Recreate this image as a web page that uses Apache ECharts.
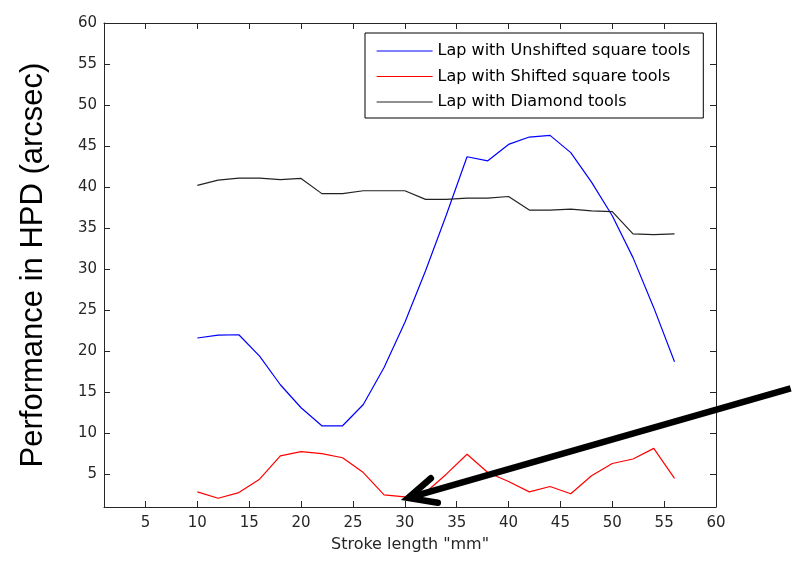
<!DOCTYPE html>
<html>
<head>
<meta charset="utf-8">
<script src="https://cdn.jsdelivr.net/npm/echarts@6/dist/echarts.min.js"></script>
<style>
html,body{margin:0;padding:0;background:#fff;}
#chart{width:798px;height:563px;}
</style>
</head>
<body>
<div id="chart"></div>
<script>
// ---- data ----
var strokeLength = [10,12,14,16,18,20,22,24,26,28,30,32,34,36,38,40,42,44,46,48,50,52,54,56];
var unshifted = [21.6,21.95,22.0,19.4,15.9,13.1,10.9,10.9,13.5,18.0,23.5,29.8,36.6,43.7,43.2,45.2,46.1,46.3,44.2,40.6,36.5,31.4,25.3,18.7];
var shifted   = [2.84,2.07,2.76,4.39,7.23,7.76,7.5,7.0,5.2,2.48,2.23,2.76,5.0,7.43,5.2,4.1,2.84,3.5,2.62,4.8,6.3,6.85,8.15,4.5];
var diamond   = [40.2,40.85,41.1,41.1,40.9,41.05,39.2,39.2,39.55,39.55,39.55,38.5,38.5,38.65,38.65,38.85,37.2,37.2,37.3,37.1,37.0,34.3,34.2,34.3];
var seriesNames = ['Lap with Unshifted square tools','Lap with Shifted square tools','Lap with Diamond tools'];
var xTicks = [5,10,15,20,25,30,35,40,45,50,55,60];
var yTicks = [5,10,15,20,25,30,35,40,45,50,55,60];
var xTitle = 'Stroke length "mm"';
var yTitle = 'Performance in HPD (arcsec)';
// annotation arrow (data coordinates): tail, tip
var arrowTail = [67.2, 15.47];
var arrowTip = [30.33, 2.1];

function pairs(xs, ys){ return xs.map(function(x,i){ return [x, ys[i]]; }); }

var axisColor = '#262626';
var tickFont = 'DejaVu Sans';

function mkX(pos, showLabel){
  return {
    type:'value', position:pos, min:1, max:60,
    axisLine:{show:true, onZero:false, lineStyle:{color:axisColor, width:1}},
    axisTick:{show:true, inside:true, length:6, customValues:xTicks, lineStyle:{color:axisColor}},
    axisLabel:{show:showLabel, customValues:xTicks, margin:9, color:axisColor, fontFamily:tickFont, fontSize:15},
    splitLine:{show:false},
    name: showLabel ? xTitle : '',
    nameLocation:'middle', nameGap:30,
    nameTextStyle:{color:axisColor, fontFamily:tickFont, fontSize:16}
  };
}
function mkY(pos, showLabel){
  return {
    type:'value', position:pos, min:1, max:60,
    axisLine:{show:true, onZero:false, lineStyle:{color:axisColor, width:1}},
    axisTick:{show:true, inside:true, length:6, customValues:yTicks, lineStyle:{color:axisColor}},
    axisLabel:{show:showLabel, customValues:yTicks, margin:7, color:axisColor, fontFamily:tickFont, fontSize:15},
    splitLine:{show:false},
    name: showLabel ? yTitle : '',
    nameLocation:'middle', nameGap:55, nameRotate:90,
    nameTextStyle:{color:'#000', fontFamily:'Liberation Sans, Arial', fontSize:31}
  };
}

var chart = echarts.init(document.getElementById('chart'), null, {renderer:'canvas'});
var option = {
  backgroundColor:'#fff',
  animation:false,
  grid:{left:104, right:82, top:23, bottom:56, containLabel:false},
  xAxis:[mkX('bottom', true), mkX('top', false)],
  yAxis:[mkY('left', true), mkY('right', false)],
  legend:{
    orient:'vertical', left:365, top:33,
    padding:[10,13,8,11], itemGap:9.5, itemWidth:56, itemHeight:16,
    borderColor:'#000', borderWidth:1, backgroundColor:'#fff',
    itemStyle:{opacity:0},
    lineStyle:{width:1.2},
    textStyle:{color:'#000', fontFamily:tickFont, fontSize:16},
    data:seriesNames
  },
  series:[
    {name:seriesNames[0], type:'line', data:pairs(strokeLength, unshifted), symbol:'none', lineStyle:{color:'#0000ff', width:1.2}, itemStyle:{color:'#0000ff'}},
    {name:seriesNames[1], type:'line', data:pairs(strokeLength, shifted), symbol:'none', lineStyle:{color:'#ff0000', width:1.2}, itemStyle:{color:'#ff0000'}},
    {name:seriesNames[2], type:'line', data:pairs(strokeLength, diamond), symbol:'none', lineStyle:{color:'#222', width:1.2}, itemStyle:{color:'#222'}}
  ]
};
chart.setOption(option);

// arrow annotation via axis scales
var pTail = chart.convertToPixel({gridIndex:0}, arrowTail);
var pTip = chart.convertToPixel({gridIndex:0}, arrowTip);
var dx = pTail[0]-pTip[0], dy = pTail[1]-pTip[1];
var len = Math.sqrt(dx*dx+dy*dy);
var ux = dx/len, uy = dy/len;
function rot(a, L){
  var c = Math.cos(a), s = Math.sin(a);
  return [pTip[0] + L*(ux*c - uy*s), pTip[1] + L*(ux*s + uy*c)];
}
var w1 = rot(-25*Math.PI/180, 30);
var w2 = rot(25*Math.PI/180, 30);
chart.setOption({
  graphic:[
    {type:'line', z:100, shape:{x1:pTip[0], y1:pTip[1], x2:pTail[0], y2:pTail[1]}, style:{stroke:'#000', lineWidth:6.5, lineCap:'butt'}},
    {type:'polyline', z:100, shape:{points:[w1, pTip, w2]}, style:{stroke:'#000', fill:null, lineWidth:6.5, lineCap:'round', lineJoin:'miter'}}
  ]
});
</script>
</body>
</html>
